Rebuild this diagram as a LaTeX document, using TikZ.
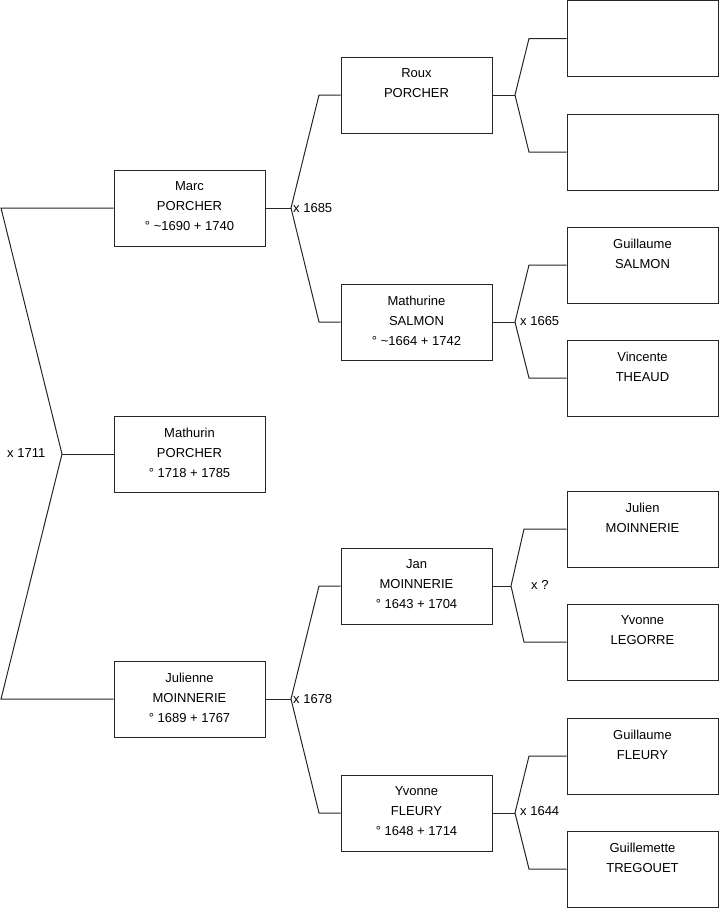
\documentclass[tikz,border=0pt]{standalone}
\usepackage{fontspec}
\setmainfont{Liberation Sans}
\usetikzlibrary{positioning}
\definecolor{boxline}{HTML}{262626}

\begin{document}
\begin{tikzpicture}[x=1pt, y=-1pt,
    every node/.style={font=\fontsize{13}{20}\selectfont},
    person/.style={draw=boxline, line width=1pt, minimum width=151pt, minimum height=76pt, inner sep=0pt},
    who/.style={anchor=north, align=center, inner sep=0pt, yshift=-12.3pt},
    union/.style={anchor=west, inner sep=0pt},
    wire/.style={line width=1pt, draw=boxline}
]
\useasboundingbox (0,0) rectangle (719,908);

% Generation 1
\node[person] (mathurin) at (189.5,454) {};
\node[who] (mathurin-t) at (mathurin.north) {Mathurin\\PORCHER\\° 1718 + 1785};

% Generation 2
\node[person] (marc) at (189.5,208) {};
\node[who] (marc-t) at (marc.north) {Marc\\PORCHER\\° \textasciitilde1690 + 1740};
\node[person] (julienne) at (189.5,699) {};
\node[who] (julienne-t) at (julienne.north) {Julienne\\MOINNERIE\\° 1689 + 1767};

% Generation 3
\node[person] (roux) at (416.5,95) {};
\node[who] (roux-t) at (roux.north) {Roux\\PORCHER};
\node[person] (mathurine) at (416.5,322) {};
\node[who] (mathurine-t) at (mathurine.north) {Mathurine\\SALMON\\° \textasciitilde1664 + 1742};
\node[person] (jan) at (416.5,586) {};
\node[who] (jan-t) at (jan.north) {Jan\\MOINNERIE\\° 1643 + 1704};
\node[person] (yvonnef) at (416.5,813) {};
\node[who] (yvonnef-t) at (yvonnef.north) {Yvonne\\FLEURY\\° 1648 + 1714};

% Generation 4
\node[person] (rouxf) at (642.5,38.5) {};
\node[person] (rouxm) at (642.5,152) {};
\node[person] (guillaumes) at (642.5,265) {};
\node[who] (guillaumes-t) at (guillaumes.north) {Guillaume\\SALMON};
\node[person] (vincente) at (642.5,378) {};
\node[who] (vincente-t) at (vincente.north) {Vincente\\THEAUD};
\node[person] (julien) at (642.5,529) {};
\node[who] (julien-t) at (julien.north) {Julien\\MOINNERIE};
\node[person] (yvonnel) at (642.5,642) {};
\node[who] (yvonnel-t) at (yvonnel.north) {Yvonne\\LEGORRE};
\node[person] (guillaumef) at (642.5,756) {};
\node[who] (guillaumef-t) at (guillaumef.north) {Guillaume\\FLEURY};
\node[person] (guillemette) at (642.5,869) {};
\node[who] (guillemette-t) at (guillemette.north) {Guillemette\\TREGOUET};

% Forks
\coordinate (j1) at (62,454);
\coordinate (j1a) at (1,208);
\coordinate (j1b) at (1,699);
\draw[wire] (mathurin.west) -- (j1);
\draw[wire] (marc.west) -- (j1a) -- (j1) -- (j1b) -- (julienne.west);
\node[union] (u1) at (7,453) {x 1711};

\coordinate (j2) at (291,208);
\coordinate (j2a) at (319,95);
\coordinate (j2b) at (319,322);
\draw[wire] (marc.east) -- (j2);
\draw[wire] (roux.west) -- (j2a) -- (j2) -- (j2b) -- (mathurine.west);
\node[union] (u2) at (293,208) {x 1685};

\coordinate (j3) at (291,699);
\coordinate (j3a) at (319,586);
\coordinate (j3b) at (319,813);
\draw[wire] (julienne.east) -- (j3);
\draw[wire] (jan.west) -- (j3a) -- (j3) -- (j3b) -- (yvonnef.west);
\node[union] (u3) at (293,699) {x 1678};

\coordinate (j4) at (515,95);
\coordinate (j4a) at (529,38.5);
\coordinate (j4b) at (529,152);
\draw[wire] (roux.east) -- (j4);
\draw[wire] (rouxf.west) -- (j4a) -- (j4) -- (j4b) -- (rouxm.west);

\coordinate (j5) at (515,322);
\coordinate (j5a) at (529,265);
\coordinate (j5b) at (529,378);
\draw[wire] (mathurine.east) -- (j5);
\draw[wire] (guillaumes.west) -- (j5a) -- (j5) -- (j5b) -- (vincente.west);
\node[union] (u5) at (520,321) {x 1665};

\coordinate (j6) at (511,586);
\coordinate (j6a) at (524,529);
\coordinate (j6b) at (524,642);
\draw[wire] (jan.east) -- (j6);
\draw[wire] (julien.west) -- (j6a) -- (j6) -- (j6b) -- (yvonnel.west);
\node[union] (u6) at (531,585) {x ?};

\coordinate (j7) at (515,813);
\coordinate (j7a) at (529,756);
\coordinate (j7b) at (529,869);
\draw[wire] (yvonnef.east) -- (j7);
\draw[wire] (guillaumef.west) -- (j7a) -- (j7) -- (j7b) -- (guillemette.west);
\node[union] (u7) at (520,811) {x 1644};
\end{tikzpicture}
\end{document}
